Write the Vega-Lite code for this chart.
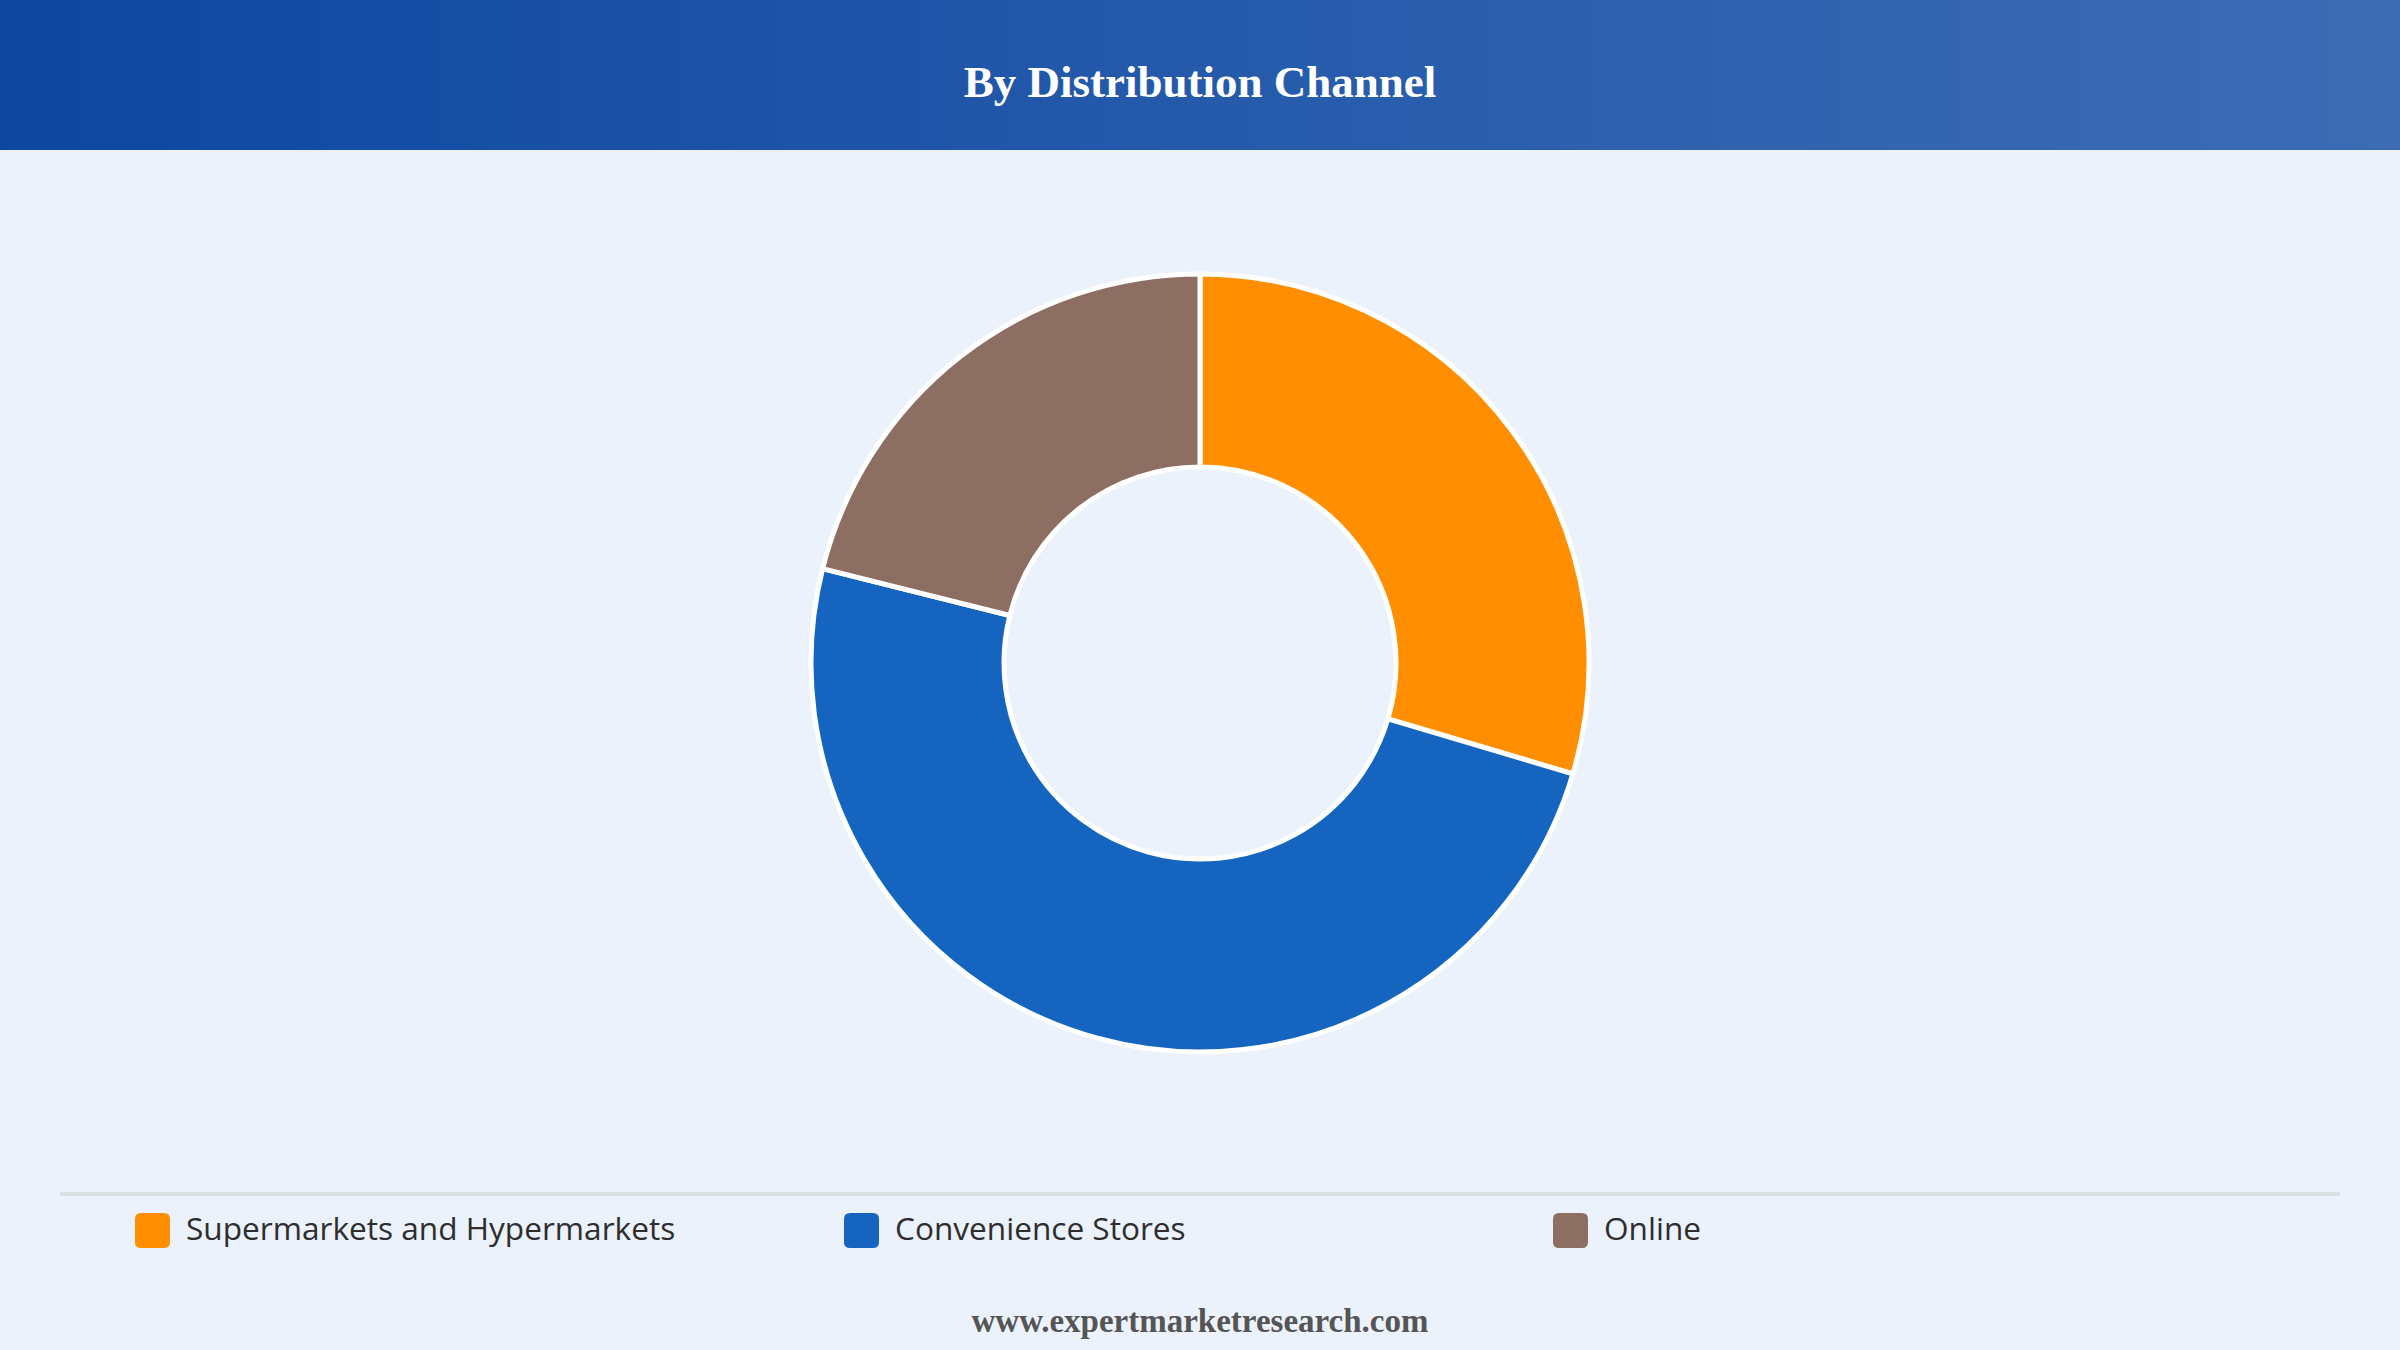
{
  "$schema": "https://vega.github.io/schema/vega-lite/v6.json",
  "description": "Donut chart of market share by distribution channel, with banner header, legend and footer.",
  "background": "#EBF2FB",
  "padding": 0,
  "spacing": 0,
  "center": true,
  "config": {"view": {"stroke": null}},
  "vconcat": [
    {
      "width": 2400,
      "height": 150,
      "view": {
        "stroke": null,
        "fill": {
          "gradient": "linear",
          "x1": 0, "y1": 0, "x2": 1, "y2": 0,
          "stops": [
            {"offset": 0, "color": "#0D47A1"},
            {"offset": 1, "color": "#3D6CB5"}
          ]
        }
      },
      "data": {"values": [{"heading": "By Distribution Channel"}]},
      "mark": {
        "type": "text",
        "font": "Liberation Serif",
        "fontSize": 45,
        "fontWeight": "bold",
        "color": "#FFFFFF",
        "baseline": "alphabetic",
        "dy": 22
      },
      "encoding": {"text": {"field": "heading"}}
    },
    {
      "width": 2400,
      "height": 1026,
      "data": {
        "values": [
          {"channel": "Supermarkets and Hypermarkets", "share": 29.6, "rank": 1},
          {"channel": "Convenience Stores", "share": 49.3, "rank": 2},
          {"channel": "Online", "share": 21.1, "rank": 3}
        ]
      },
      "mark": {
        "type": "arc",
        "innerRadius": 196,
        "outerRadius": 389,
        "stroke": "#FFFFFF",
        "strokeWidth": 5
      },
      "encoding": {
        "theta": {"field": "share", "type": "quantitative", "stack": true},
        "order": {"field": "rank", "type": "quantitative"},
        "color": {
          "field": "channel",
          "type": "nominal",
          "scale": {
            "domain": ["Supermarkets and Hypermarkets", "Convenience Stores", "Online"],
            "range": ["#FF8F00", "#1565C0", "#8D6E63"]
          },
          "legend": {
            "title": null,
            "orient": "none",
            "legendX": 135,
            "legendY": 1213,
            "direction": "horizontal",
            "columns": 3,
            "gridAlign": "all",
            "columnPadding": 168,
            "padding": 0,
            "symbolType": "M-0.65,-1H0.65Q1,-1,1,-0.65V0.65Q1,1,0.65,1H-0.65Q-1,1,-1,0.65V-0.65Q-1,-1,-0.65,-1Z",
            "symbolSize": 1225,
            "symbolStrokeWidth": 0,
            "symbolOpacity": 1,
            "labelFont": "Open Sans",
            "labelFontSize": 31.6,
            "labelColor": "#2E2E2E",
            "labelOffset": 16,
            "labelLimit": 0
          }
        },
        "tooltip": [
          {"field": "channel", "type": "nominal"},
          {"field": "share", "type": "quantitative"}
        ]
      }
    },
    {
      "width": 2400,
      "height": 16,
      "data": {"values": []},
      "mark": "text",
      "encoding": {}
    },
    {
      "width": 2280,
      "height": 4,
      "view": {"fill": "#DCDFE4", "stroke": null},
      "data": {"values": []},
      "mark": "text",
      "encoding": {}
    },
    {
      "width": 2400,
      "height": 154,
      "data": {"values": [{"site": "www.expertmarketresearch.com"}]},
      "mark": {
        "type": "text",
        "font": "Liberation Serif",
        "fontSize": 33,
        "fontWeight": "bold",
        "color": "#555555",
        "baseline": "alphabetic",
        "dy": 59
      },
      "encoding": {"text": {"field": "site"}}
    }
  ]
}
